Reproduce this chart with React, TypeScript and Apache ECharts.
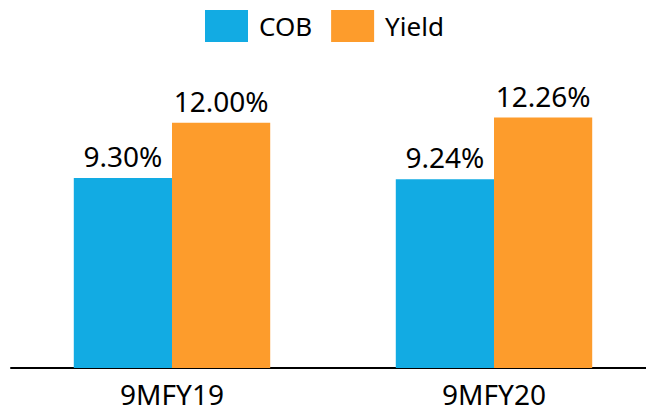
import React, { useEffect, useRef } from "react";
import * as echarts from "echarts";

const categories = ["9MFY19", "9MFY20"];
const cobValues = [9.3, 9.24];
const yieldValues = [12.0, 12.26];
const seriesNames = ["COB", "Yield"];

const FONT = "'Noto Sans', sans-serif";

export default function App() {
  const ref = useRef<HTMLDivElement>(null);
  useEffect(() => {
    if (!ref.current) return;
    const chart = echarts.init(ref.current, undefined, { renderer: "svg" });
    const label = {
      show: true,
      position: "top" as const,
      distance: 8,
      color: "#000",
      fontSize: 28,
      fontFamily: FONT,
      formatter: (p: any) => Number(p.value).toFixed(2) + "%",
    };
    chart.setOption({
      animation: false,
      backgroundColor: "#fff",
      legend: {
        top: 5,
        left: 200,
        itemWidth: 43,
        itemHeight: 32,
        itemGap: 19,
        icon: "rect",
        textStyle: { fontSize: 26, fontFamily: FONT, color: "#000", padding: [0, 0, 0, 6] },
        data: seriesNames,
      },
      grid: { left: 11, width: 644, top: 82, height: 286, outerBoundsMode: "none", containLabel: false },
      xAxis: {
        type: "category",
        data: categories,
        axisLine: { lineStyle: { color: "#000", width: 2 } },
        axisTick: { show: false },
        axisLabel: { fontSize: 28, fontFamily: FONT, color: "#000", margin: 12 },
      },
      yAxis: {
        type: "value",
        min: 0,
        max: 14,
        show: false,
        splitLine: { show: false },
      },
      series: [
        {
          name: seriesNames[0],
          type: "bar",
          data: cobValues,
          barGap: "0%",
          barCategoryGap: "39%",
          itemStyle: { color: "#12ABE3" },
          label,
        },
        {
          name: seriesNames[1],
          type: "bar",
          data: yieldValues,
          barGap: "0%",
          barCategoryGap: "39%",
          itemStyle: { color: "#FD9C2C" },
          label,
        },
      ],
    });
    return () => chart.dispose();
  }, []);
  return (
    <div
      ref={ref}
      style={{ position: "absolute", left: 0, top: 0, width: 646, height: 414 }}
    />
  );
}
